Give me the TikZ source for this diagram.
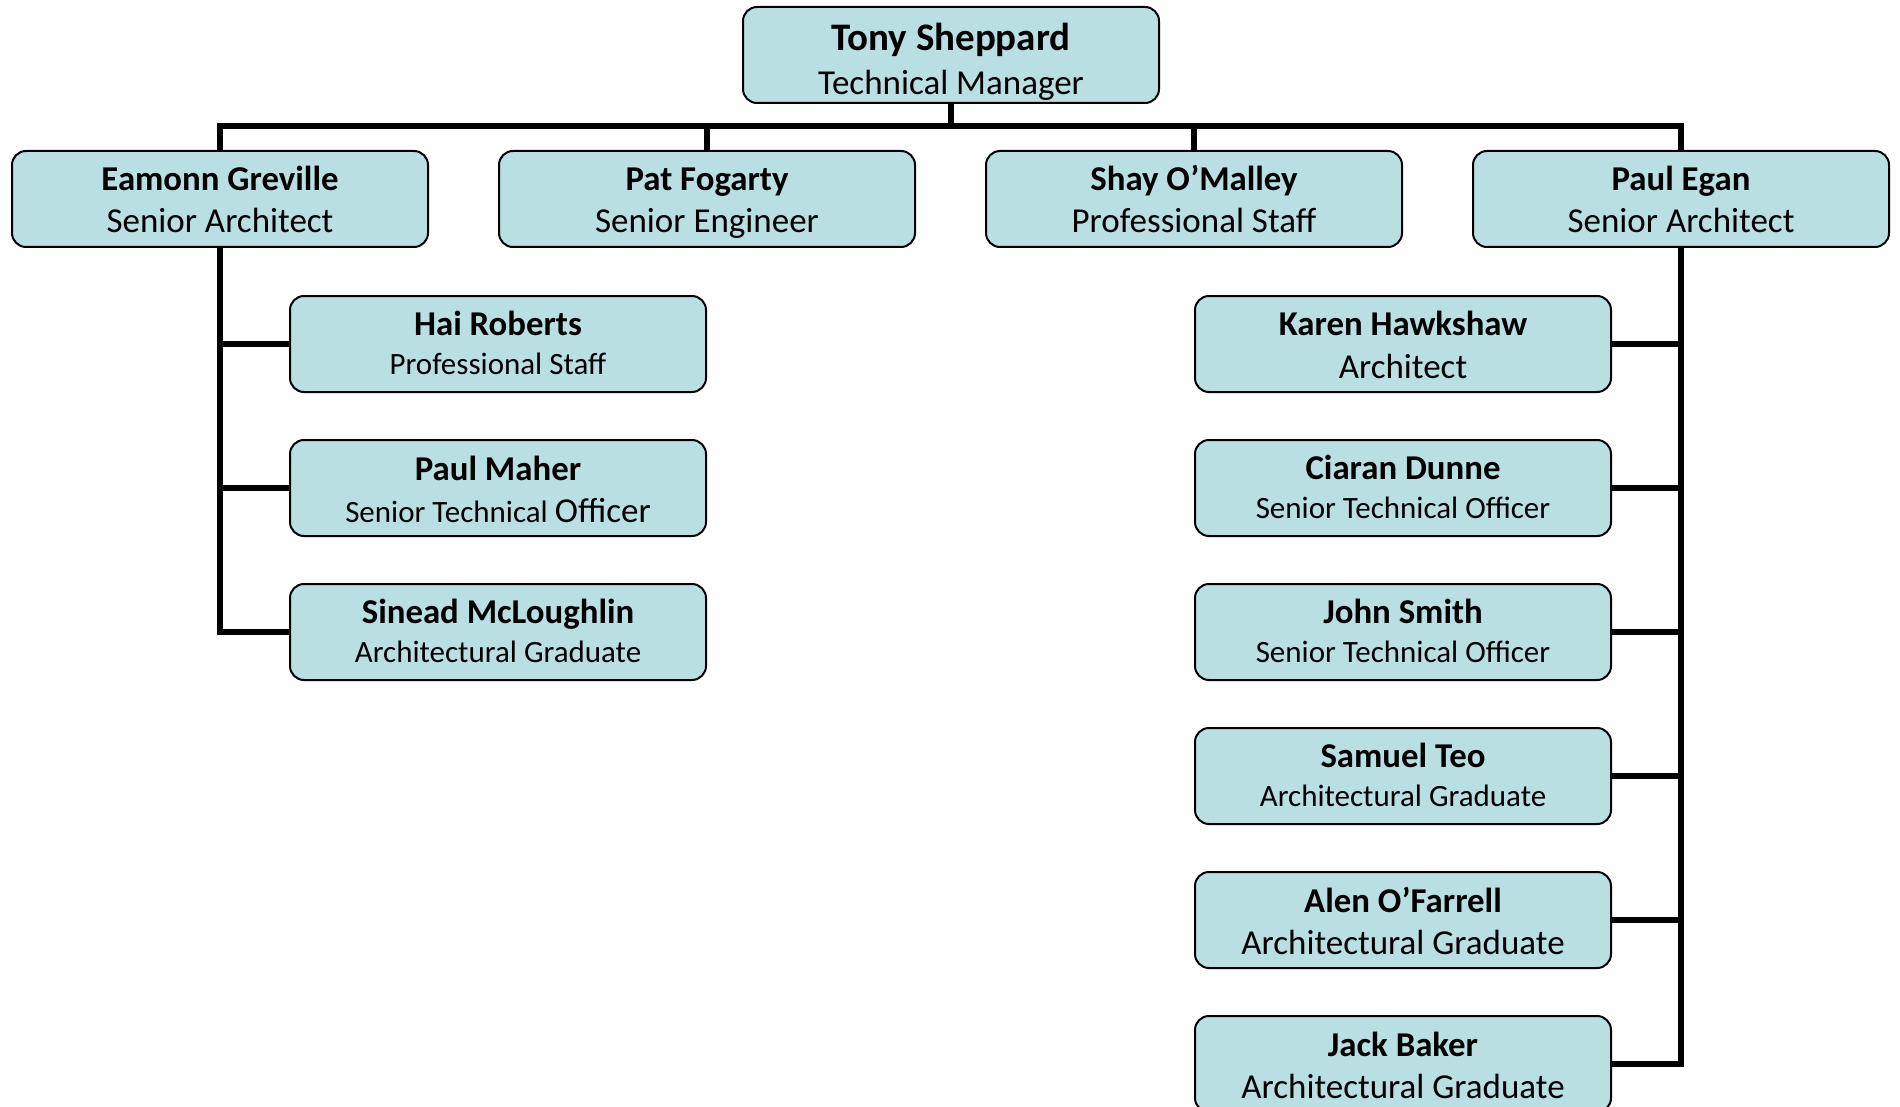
\documentclass[tikz,border=0pt]{standalone}
\usepackage{fontspec}
\setmainfont{Carlito}
\definecolor{boxfill}{RGB}{185,223,227}
\newcommand{\topname}{\fontsize{19.5}{22}\selectfont\bfseries}
\newcommand{\pname}{\fontsize{17.4}{21}\selectfont\bfseries}
\newcommand{\rolebig}{\fontsize{17.5}{21}\selectfont\mdseries}
\newcommand{\rolesmall}{\fontsize{15.5}{20}\selectfont\mdseries}

\begin{document}
\begin{tikzpicture}[x=0.5pt, y=-0.5pt,
    person/.style={draw, line width=1pt, fill=boxfill, rounded corners=7pt,
      minimum width=208pt, minimum height=48pt, align=center, inner sep=0pt,
      font=\fontsize{17}{21}\selectfont, text height=34pt, text depth=0pt},
    minor/.style={person, text height=30.5pt},
    conn/.style={line width=3pt}]
  \useasboundingbox (0,0) rectangle (1900,1107);

  % Manager
  \node[person, text height=40pt] (tony) at (951,55) {\topname Tony Sheppard\\[1pt] \rolebig Technical Manager};

  % Second level
  \node[person] (eamonn) at (220,199) {\pname Eamonn Greville\\ \rolebig Senior Architect};
  \node[person] (pat) at (707,199) {\pname Pat Fogarty\\ \rolebig Senior Engineer};
  \node[person] (shay) at (1194,199) {\pname Shay O'Malley\\ \rolebig Professional Staff};
  \node[person] (egan) at (1681,199) {\pname Paul Egan\\ \rolebig Senior Architect};

  % Reports of Eamonn Greville
  \node[minor] (hai) at (498,344) {\pname Hai Roberts\\[-1.5pt] \rolesmall Professional Staff};
  \node[person] (maher) at (498,488) {\pname Paul Maher\\ \rolesmall Senior Technical \rolebig Officer};
  \node[minor] (sinead) at (498,632) {\pname Sinead McLoughlin\\[-1.5pt] \rolesmall Architectural Graduate};

  % Reports of Paul Egan
  \node[person] (karen) at (1403,344) {\pname Karen Hawkshaw\\ \rolebig Architect};
  \node[minor] (ciaran) at (1403,488) {\pname Ciaran Dunne\\[-1.5pt] \rolesmall Senior Technical Officer};
  \node[minor] (john) at (1403,632) {\pname John Smith\\[-1.5pt] \rolesmall Senior Technical Officer};
  \node[minor] (samuel) at (1403,776) {\pname Samuel Teo\\[-1.5pt] \rolesmall Architectural Graduate};
  \node[person] (alen) at (1403,920) {\pname Alen O'Farrell\\ \rolebig Architectural Graduate};
  \node[person] (jack) at (1403,1064) {\pname Jack Baker\\ \rolebig Architectural Graduate};

  % Bus under the manager
  \coordinate (bus) at (951,126);
  \draw[conn] (tony.south) -- (bus);
  \draw[conn] (eamonn.north) |- (bus) -| (egan.north);
  \draw[conn] (pat.north) -- (pat.north |- bus);
  \draw[conn] (shay.north) -- (shay.north |- bus);

  % Left branch
  \draw[conn] (eamonn.south) |- (hai.west);
  \draw[conn] (eamonn.south) |- (maher.west);
  \draw[conn] (eamonn.south) |- (sinead.west);

  % Right branch
  \foreach \p in {karen, ciaran, john, samuel, alen, jack}
    \draw[conn] (egan.south) |- (\p.east);
\end{tikzpicture}
\end{document}
